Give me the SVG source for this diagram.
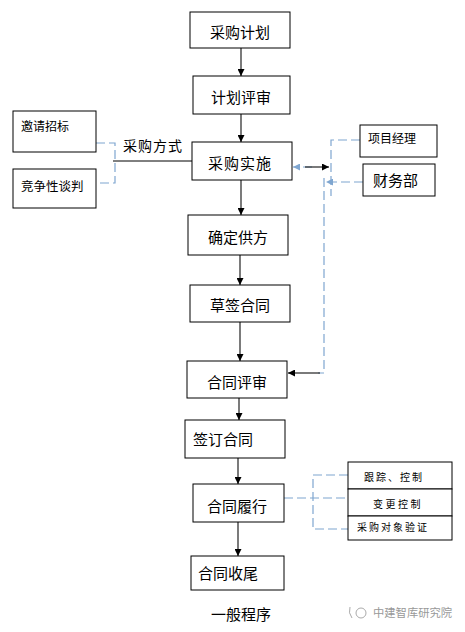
<svg xmlns="http://www.w3.org/2000/svg" width="465" height="632" viewBox="0 0 465 632">
<style>
.box{fill:#fff;stroke:#000;stroke-width:1}
.t{font-family:"Noto Sans CJK SC","Liberation Sans",sans-serif;fill:#000}
.c{text-anchor:middle;dominant-baseline:central}
.arr{stroke:#222;stroke-width:1.2;fill:none;marker-end:url(#ah)}
.blk{stroke:#000;stroke-width:1;fill:none}
.dash{stroke:#7fa6d0;stroke-width:1.2;fill:none;stroke-dasharray:9 4}
</style>
<defs>
<marker id="ah" viewBox="0 0 8 8" refX="8" refY="4" markerWidth="7" markerHeight="7" orient="auto" markerUnits="userSpaceOnUse">
<path d="M0,0 L8,4 L0,8 z" fill="#000"/>
</marker>
<marker id="ahb" viewBox="0 0 8 8" refX="8" refY="4" markerWidth="7" markerHeight="7" orient="auto" markerUnits="userSpaceOnUse">
<path d="M0,0 L8,4 L0,8 z" fill="#7fa6d0"/>
</marker>
</defs>
<rect width="465" height="632" fill="#fff"/>

<g id="connectors">
<line class="arr" x1="241" y1="48" x2="241" y2="76"/>
<line class="arr" x1="241" y1="114" x2="241" y2="142"/>
<line class="arr" x1="241" y1="180" x2="241" y2="215"/>
<line class="arr" x1="240" y1="255" x2="240" y2="285"/>
<line class="arr" x1="240" y1="322" x2="240" y2="361"/>
<line class="arr" x1="239" y1="398" x2="239" y2="420"/>
<line class="arr" x1="238" y1="458" x2="238" y2="484"/>
<line class="arr" x1="238" y1="522" x2="238" y2="556"/>
<line class="blk" x1="113" y1="161" x2="192" y2="161"/>
<path class="dash" d="M96,143 H115 V183 H96"/>
<line class="dash" x1="312" y1="167" x2="293" y2="167" marker-end="url(#ahb)"/>
<line class="arr" x1="305" y1="167" x2="329" y2="167"/>
<path class="dash" d="M360,140 H331 V196"/>
<line class="dash" x1="363" y1="182" x2="326" y2="182" marker-end="url(#ahb)"/>
<path class="dash" d="M324,178 V373 H318"/>
<line class="arr" x1="320" y1="373" x2="288" y2="373"/>
<path class="dash" d="M284,498 H348"/>
<path class="dash" d="M348,475 H313 V529 H348"/>
</g>

<g id="n1"><rect class="box" x="190" y="12" width="100" height="36"/><text class="t c" x="240" y="31" font-size="15">采购计划</text></g>
<g id="n2"><rect class="box" x="193" y="76" width="97" height="38"/><text class="t c" x="241" y="96" font-size="15">计划评审</text></g>
<g id="n3"><rect class="box" x="192" y="142" width="100" height="38"/><text class="t c" x="240" y="162" font-size="15" letter-spacing="1">采购实施</text></g>
<g id="n4"><rect class="box" x="188" y="215" width="100" height="40"/><text class="t c" x="238" y="236" font-size="15">确定供方</text></g>
<g id="n5"><rect class="box" x="190" y="285" width="100" height="37"/><text class="t c" x="240" y="304" font-size="15">草签合同</text></g>
<g id="n6"><rect class="box" x="187" y="361" width="100" height="37"/><text class="t c" x="237" y="381" font-size="15">合同评审</text></g>
<g id="n7"><rect class="box" x="185" y="420" width="100" height="38"/><text class="t" x="193" y="445" font-size="15">签订合同</text></g>
<g id="n8"><rect class="box" x="193" y="484" width="91" height="38"/><text class="t c" x="237" y="505" font-size="15">合同履行</text></g>
<g id="n9"><rect class="box" x="191" y="556" width="93" height="34"/><text class="t" x="198" y="579" font-size="15">合同收尾</text></g>

<g id="m1"><rect class="box" x="13" y="111" width="83" height="41"/><text class="t" x="21" y="131" font-size="12">邀请招标</text></g>
<g id="m2"><rect class="box" x="13" y="169" width="83" height="39"/><text class="t" x="21" y="191" font-size="12.5">竞争性谈判</text></g>
<text class="t" x="123" y="151" font-size="14" letter-spacing="1">采购方式</text>

<g id="r1"><rect class="box" x="360" y="125" width="77" height="32"/><text class="t" x="368" y="143" font-size="12">项目经理</text></g>
<g id="r2"><rect class="box" x="363" y="164" width="72" height="32"/><text class="t" x="373" y="186" font-size="15">财务部</text></g>

<g id="s1"><rect class="box" x="348" y="462" width="104" height="27"/><text class="t c" x="394" y="476" font-size="10" letter-spacing="2">跟踪、控制</text></g>
<g id="s2"><rect class="box" x="348" y="489" width="104" height="27"/><text class="t c" x="398" y="503" font-size="10" letter-spacing="2.5">变更控制</text></g>
<g id="s3"><rect class="box" x="348" y="516" width="104" height="24"/><text class="t" x="357" y="531" font-size="10" letter-spacing="2">采购对象验证</text></g>

<text class="t c" x="241" y="613" font-size="15">一般程序</text>
<g id="wm" fill="none" stroke="#aaa" stroke-width="1">
<path d="M350,607 Q348,613 352,618"/>
<circle cx="361" cy="613" r="5"/>
</g>
<text class="t" x="373" y="617" font-size="11.3" fill="#999" style="fill:#999">中建智库研究院</text>
</svg>
